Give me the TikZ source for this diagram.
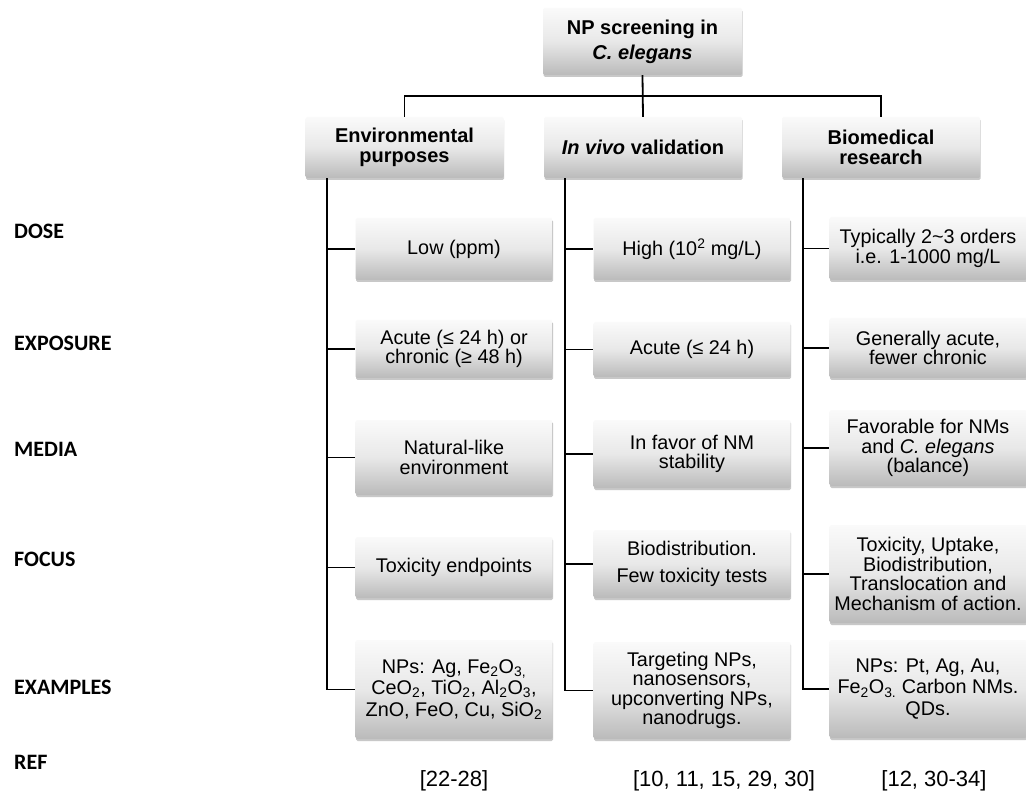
\documentclass[tikz,border=0pt]{standalone}
\usepackage{fontspec}
\setmainfont{Liberation Sans}
\newfontfamily\calibri{Carlito}
\usetikzlibrary{shadows}
\tikzset{
 box/.style={rounded corners=1.5pt, top color=black!2, bottom color=black!27, middle color=black!9,
   drop shadow={shadow xshift=0.5pt, shadow yshift=-2pt, opacity=0.3, fill=black!70},
   align=center, inner sep=2pt, font=\fontsize{19.8}{19.5}\selectfont},
 childbox/.style={box, minimum width=197pt},
 loosebox/.style={childbox, font=\fontsize{19.8}{21.5}\selectfont},
 headbox/.style={box, minimum width=198pt, minimum height=61pt, font=\bfseries\fontsize{20}{20}\selectfont},
 conn/.style={line width=1.8pt, black},
 rowlabel/.style={anchor=west, font=\calibri\bfseries\fontsize{22}{22}\selectfont, inner sep=0pt},
 reftext/.style={font=\fontsize{22}{22}\selectfont, inner sep=0pt}
}
\begin{document}
\begin{tikzpicture}[x=1pt,y=-1pt]
\useasboundingbox[fill=white] (0,0) rectangle (1026,794);
% top
\node[box, minimum width=199pt, minimum height=67pt, font=\bfseries\fontsize{20}{25}\selectfont] (top) at (642.5,41.5) {NP screening in\\\textit{C. elegans}};
% headers
\node[headbox] (eh) at (404.5,147.5) {Environmental\\purposes};
\node[headbox] (ih) at (643,147.5) {\textit{In vivo} validation};
\node[headbox] (bh) at (881,147.5) {Biomedical\\research};
% environmental column
\node[childbox, minimum height=62pt] (e1) at (454,249) {Low (ppm)};
\node[childbox, minimum height=58pt] (e2) at (454,349) {Acute (≤ 24 h) or\\chronic (≥ 48 h)};
\node[childbox, minimum height=75pt] (e3) at (454,457.5) {Natural-like\\environment};
\node[childbox, minimum height=61pt] (e4) at (454,567.5) {Toxicity endpoints};
\node[loosebox, minimum height=99pt] (e5) at (454,689.5) {NPs: Ag, Fe\textsubscript{2}O\textsubscript{3,}\\CeO\textsubscript{2}, TiO\textsubscript{2}, Al\textsubscript{2}O\textsubscript{3},\\ZnO, FeO, Cu, SiO\textsubscript{2}};
% in vivo column
\node[childbox, minimum height=62pt] (i1) at (692,249) {High (10\textsuperscript{2} mg/L)};
\node[childbox, minimum height=55pt] (i2) at (692,349.5) {Acute (≤ 24 h)};
\node[childbox, minimum height=68pt] (i3) at (692,454) {In favor of NM\\stability};
\node[childbox, minimum height=68pt] (i4) at (692,564) {Biodistribution.\\[8pt]Few toxicity tests};
\node[childbox, minimum height=97pt] (i5) at (692,690.5) {Targeting NPs,\\nanosensors,\\upconverting NPs,\\nanodrugs.};
% biomedical column
\node[childbox, minimum height=63pt] (b1) at (928,248.5) {Typically 2\textasciitilde3 orders\\i.e. 1-1000 mg/L};
\node[childbox, minimum height=60pt] (b2) at (928,348) {Generally acute,\\fewer chronic};
\node[childbox, minimum height=76pt] (b3) at (928,448) {Favorable for NMs\\and \textit{C. elegans}\\(balance)};
\node[childbox, minimum height=98pt] (b4) at (928,574) {Toxicity, Uptake,\\Biodistribution,\\Translocation and\\Mechanism of action.};
\node[loosebox, minimum height=98pt] (b5) at (928,689) {NPs: Pt, Ag, Au,\\Fe\textsubscript{2}O\textsubscript{3.} Carbon NMs.\\QDs.};
% tree connectors
\coordinate (bus) at (643,96);
\draw[conn] (top.south) -- (ih.north);
\draw[conn] (eh.north) |- (bus) -| (bh.north);
\coordinate (etx) at (327,0);
\coordinate (itx) at (565,0);
\coordinate (btx) at (803,0);
\draw[conn] (eh.south -| etx) |- (e5.west);
\draw[conn] (ih.south -| itx) |- (i5.west);
\draw[conn] (bh.south -| btx) |- (b5.west);
\foreach \k in {1,2,3,4}{
  \draw[conn] (etx |- e\k.west) -- (e\k.west);
  \draw[conn] (itx |- i\k.west) -- (i\k.west);
  \draw[conn] (btx |- b\k.west) -- (b\k.west);
}
% row labels
\node[rowlabel] (ldose) at (14,231) {DOSE};
\node[rowlabel] (lexp) at (14,343) {EXPOSURE};
\node[rowlabel] (lmed) at (14,449) {MEDIA};
\node[rowlabel] (lfoc) at (14,559) {FOCUS};
\node[rowlabel] (lex) at (14,687) {EXAMPLES};
\node[rowlabel] (lref) at (14,762) {REF};
% references
\node[reftext] (r1) at (454,781) {[22-28]};
\node[reftext] (r2) at (724,781) {[10, 11, 15, 29, 30]};
\node[reftext] (r3) at (934,781) {[12, 30-34]};
\end{tikzpicture}
\end{document}
